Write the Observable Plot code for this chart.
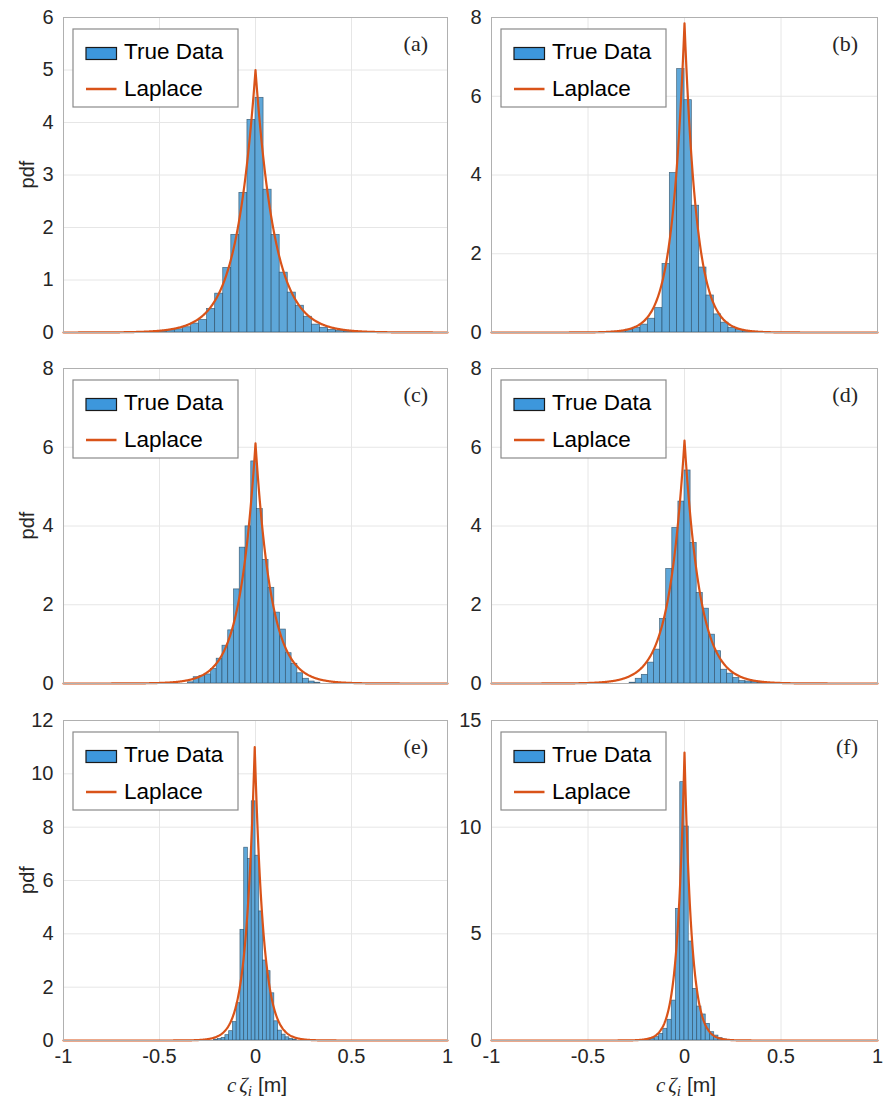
<!DOCTYPE html>
<html><head><meta charset="utf-8">
<script src="https://cdn.jsdelivr.net/npm/d3@7"></script>
<script src="https://cdn.jsdelivr.net/npm/@observablehq/plot@0.6"></script>
<style>
body{margin:0;background:#fff;}
#chart{position:relative;width:884px;height:1108px;background:#fff;}
#chart svg{position:absolute;overflow:visible;}
</style></head><body><div id="chart"></div>
<script>
// ---- data ----
const panelLabels = ["(a)", "(b)", "(c)", "(d)", "(e)", "(f)"];
const legendLabels = ["True Data", "Laplace"];
const xTicks = [-1, -0.5, 0, 0.5, 1];
const yMax = [6, 8, 8, 8, 12, 15];
const yTicksA = [0, 1, 2, 3, 4, 5, 6];
const yTicksB = [0, 2, 4, 6, 8];
const yTicksC = [0, 2, 4, 6, 8];
const yTicksD = [0, 2, 4, 6, 8];
const yTicksE = [0, 2, 4, 6, 8, 10, 12];
const yTicksF = [0, 5, 10, 15];
// histogram: left edge of first bin, bin width, bar heights (pdf)
const binStart = [-0.546, -0.38, -0.352, -0.2844, -0.2156, -0.198];
const binWidth = [0.042, 0.038, 0.03, 0.0316, 0.0196, 0.022];
const barsA = [0.01,0.02,0.04,0.06,0.10,0.17,0.24,0.45,0.74,1.23,1.86,2.66,4.05,4.47,2.72,1.86,1.14,0.76,0.51,0.30,0.15,0.09,0.05,0.03,0.02,0.01];
const barsB = [0.02,0.04,0.07,0.12,0.20,0.35,0.62,1.74,4.05,6.69,5.9,3.22,1.65,0.94,0.46,0.25,0.12,0.06,0.03,0.02];
const barsC = [0.03,0.16,0.19,0.23,0.37,0.63,0.96,1.35,2.39,3.45,3.99,5.64,4.43,3.14,2.43,1.80,1.37,0.77,0.50,0.26,0.12,0.05,0.02];
const barsD = [0.02,0.12,0.22,0.53,0.86,1.64,2.91,3.95,4.62,5.41,3.57,2.30,1.90,1.24,0.82,0.35,0.25,0.14,0.06,0.05,0.04,0.02];
const barsE = [0.03,0.06,0.10,0.20,0.35,0.69,1.40,4.15,7.23,6.81,8.97,6.93,4.84,3.00,2.60,1.77,0.72,0.37,0.22,0.12,0.06,0.03];
const barsF = [0.04,0.08,0.16,0.31,0.55,0.97,1.87,6.17,12.11,10.03,4.64,2.42,1.59,1.22,0.78,0.39,0.23,0.11,0.05,0.03];
// fitted Laplace: location and peak density
const laplaceMu = [0, 0, 0, 0, -0.004, 0];
const laplacePeak = [5.0, 7.85, 6.1, 6.17, 11.0, 13.5];

const allBars = [barsA, barsB, barsC, barsD, barsE, barsF];
const allYTicks = [yTicksA, yTicksB, yTicksC, yTicksD, yTicksE, yTicksF];

// ---- layout ----
const colLeft = [0, 442], colWidth = [450, 442];
const plotX0 = [63, 491], plotX1 = [447, 877];
const rowTop = [0, 350, 700], rowHeight = [350, 350, 408];
const plotY0 = [17, 368, 720], plotY1 = [332, 683, 1040];

const barFill = "#5ea7d9", barStroke = "#2a4a62", lineColor = "#d95319";
const container = document.getElementById("chart");

for (let i = 0; i < 6; i++) {
  const col = i % 2, row = Math.floor(i / 2);
  const left = colLeft[col], width = colWidth[col];
  const top = rowTop[row], height = rowHeight[row];
  const mL = plotX0[col] - left, mR = left + width - plotX1[col];
  const mT = plotY0[row] - top, mB = top + height - plotY1[row];
  const bars = allBars[i].map((h, k) => ({
    x1: binStart[i] + k * binWidth[i],
    x2: binStart[i] + (k + 1) * binWidth[i],
    y: h
  }));
  const xs = d3.range(-1, 1.00001, 0.0025).concat([laplaceMu[i]]).sort((a, b) => a - b);
  const curve = xs.map(x => ({x, y: laplacePeak[i] * Math.exp(-2 * laplacePeak[i] * Math.abs(x - laplaceMu[i]))}));
  const yt = allYTicks[i];
  const bottom = row === 2;
  const marks = [
    Plot.gridX(xTicks, {stroke: "#e6e6e6", strokeOpacity: 1}),
    Plot.gridY(yt, {stroke: "#e6e6e6", strokeOpacity: 1}),
    Plot.rectY(bars, {x1: "x1", x2: "x2", y: "y", fill: barFill, stroke: barStroke, strokeWidth: 0.7, strokeOpacity: 0.8}),
    Plot.line(curve, {x: "x", y: "y", stroke: lineColor, strokeWidth: 2.2}),
    Plot.frame({stroke: "#b0b0b0"}),
    Plot.axisY(yt, {tickSize: 0, tickPadding: 10, tickFormat: d => String(d), label: null})
  ];
  if (bottom) marks.push(Plot.axisX(xTicks, {tickSize: 0, tickPadding: 8, tickFormat: d => String(d), label: null}));
  const svg = Plot.plot({
    width, height, marginLeft: mL, marginRight: mR, marginTop: mT, marginBottom: mB,
    x: {domain: [-1, 1], axis: bottom ? undefined : null, label: null},
    y: {domain: [0, yMax[i]], label: null},
    style: {fontFamily: "Liberation Sans, Arial, sans-serif", fontSize: "20px", color: "#262626", background: "transparent", overflow: "visible"},
    marks
  });
  svg.style.left = left + "px";
  svg.style.top = top + "px";
  container.appendChild(svg);
  const s = d3.select(svg);
  const pw = plotX1[col] - plotX0[col];

  // legend
  const lg = s.append("g").attr("transform", `translate(${mL + 10},${mT + 12})`).attr("text-anchor", "start");
  lg.append("rect").attr("width", 165).attr("height", 78).attr("fill", "#fff").attr("stroke", "#8a8a8a").attr("stroke-width", 1.2);
  lg.append("rect").attr("x", 13).attr("y", 18.5).attr("width", 30.5).attr("height", 12).attr("fill", "#3d97dc").attr("stroke", "#1a1a1a").attr("stroke-width", 1.2);
  lg.append("line").attr("x1", 13).attr("x2", 43.5).attr("y1", 60).attr("y2", 60).attr("stroke", lineColor).attr("stroke-width", 2.5);
  lg.append("text").attr("x", 51).attr("y", 30).attr("text-anchor", "start").attr("font-size", 22.5).attr("fill", "#000").text(legendLabels[0]);
  lg.append("text").attr("x", 51).attr("y", 67).attr("text-anchor", "start").attr("font-size", 22.5).attr("fill", "#000").text(legendLabels[1]);

  // panel label
  s.append("text").attr("x", mL + pw - 19).attr("y", mT + 34).attr("text-anchor", "end")
    .attr("font-family", "Liberation Serif, serif").attr("font-size", 22).attr("fill", "#262626").text(panelLabels[i]);

  // y label
  if (col === 0) {
    const cy = mT + (plotY1[row] - plotY0[row]) / 2;
    s.append("text").attr("transform", `translate(${34 - left},${cy}) rotate(-90)`).attr("text-anchor", "middle")
      .attr("font-size", 20).attr("fill", "#262626").text("pdf");
  }
  // x label
  if (bottom) {
    const t = s.append("text").attr("x", mL + pw / 2 + 2).attr("y", 1092 - top).attr("text-anchor", "middle")
      .attr("font-size", 21).attr("fill", "#262626");
    t.append("tspan").attr("font-family", "Liberation Serif, serif").attr("font-style", "italic").text("c");
    t.append("tspan").attr("font-family", "Liberation Serif, serif").attr("font-style", "italic").attr("dx", 3).text("ζ");
    t.append("tspan").attr("font-family", "Liberation Serif, serif").attr("font-style", "italic").attr("font-size", 15).attr("dy", 4).text("i");
    t.append("tspan").attr("dx", 6).attr("dy", -4).text("[m]");
  }
}
</script></body></html>
